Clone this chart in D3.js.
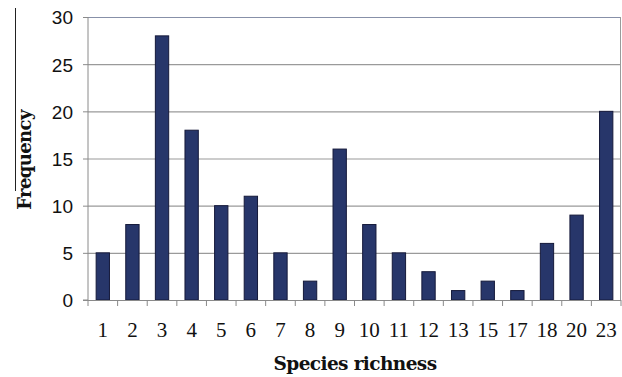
<!DOCTYPE html>
<html><head><meta charset="utf-8">
<script src="https://cdn.jsdelivr.net/npm/d3@7"></script>
<style>body{margin:0;background:#fff}svg{display:block}</style>
</head><body>
<script>
const categories = ["1","2","3","4","5","6","7","8","9","10","11","12","13","15","17","18","20","23"];
const frequency = [5,8,28,18,10,11,5,2,16,8,5,3,1,2,1,6,9,20];
const yTicks = [0,5,10,15,20,25,30];

const W=622,H=377;
const m={left:88,top:17,right:1,bottom:77};
const svg=d3.select("body").append("svg").attr("width",W).attr("height",H);
const x=d3.scaleBand().domain(categories).range([m.left,W-m.right]).paddingInner(0.55).paddingOuter(0.275);
const xb=d3.scaleBand().domain(categories).range([m.left,W-m.right]);
const y=d3.scaleLinear().domain([0,30]).range([H-m.bottom,m.top]);

// gridlines
svg.append("g").selectAll("line").data(yTicks.filter(d=>d>0)).join("line")
 .attr("x1",m.left).attr("x2",W-m.right).attr("y1",d=>y(d)+0.5).attr("y2",d=>y(d)+0.5)
 .attr("stroke",d=>d===30?"#8790a8":"#9a9a9a").attr("stroke-width",1.2);
// right border
svg.append("line").attr("x1",W-m.right-0.5).attr("x2",W-m.right-0.5).attr("y1",y(30)).attr("y2",y(0)).attr("stroke","#9a9a9a");

// bars
svg.append("g").selectAll("rect").data(frequency).join("rect")
 .attr("x",(d,i)=>x(categories[i])).attr("width",x.bandwidth())
 .attr("y",d=>y(d)).attr("height",d=>y(0)-y(d))
 .attr("fill","#27366a").attr("stroke","#15193a").attr("stroke-width",1);

// y axis
const ya=svg.append("g").attr("transform",`translate(${m.left},0)`)
 .call(d3.axisLeft(y).tickValues(yTicks).tickSize(5).tickPadding(10));
ya.select(".domain").attr("stroke","#8a8a8a").attr("d",`M-5,${y(0)}H0V${y(30)}`);
ya.selectAll(".tick line").attr("stroke","#8a8a8a");
ya.selectAll("text").attr("font-family","Liberation Sans, Arial, sans-serif").attr("font-size",19).attr("fill","#111").attr("dy","0.36em");

// x axis
const xa=svg.append("g").attr("transform",`translate(0,${y(0)})`);
xa.append("line").attr("x1",m.left-5).attr("x2",W-m.right).attr("y1",0.5).attr("y2",0.5).attr("stroke","#8a8a8a");
xa.selectAll("line.tk").data(categories.concat(["end"])).join("line").attr("class","tk")
 .attr("x1",(d,i)=>i<categories.length?xb(d):xb(categories[categories.length-1])+xb.bandwidth())
 .attr("x2",(d,i)=>i<categories.length?xb(d):xb(categories[categories.length-1])+xb.bandwidth())
 .attr("y1",0).attr("y2",6).attr("stroke","#8a8a8a");
xa.selectAll("text").data(categories).join("text")
 .attr("x",d=>xb(d)+xb.bandwidth()/2).attr("y",37).attr("text-anchor","middle")
 .attr("font-family","Liberation Serif, Times New Roman, serif").attr("font-size",21).attr("fill","#111").text(d=>d);

// axis titles
svg.append("text").attr("x",355).attr("y",370).attr("text-anchor","middle")
 .attr("font-family","DejaVu Serif, serif").attr("font-weight","bold").attr("font-size",18.5).attr("letter-spacing","-0.6")
 .attr("fill","#111").text("Species richness");
svg.append("text").attr("transform","translate(31,160) rotate(-90)").attr("text-anchor","middle")
 .attr("font-family","DejaVu Serif, serif").attr("font-weight","bold").attr("font-size",18).attr("letter-spacing","-0.6")
 .attr("fill","#111").text("Frequency");
svg.append("line").attr("x1",15.5).attr("x2",15.5).attr("y1",8).attr("y2",191).attr("stroke","#222").attr("stroke-width",1);
</script>
</body></html>
